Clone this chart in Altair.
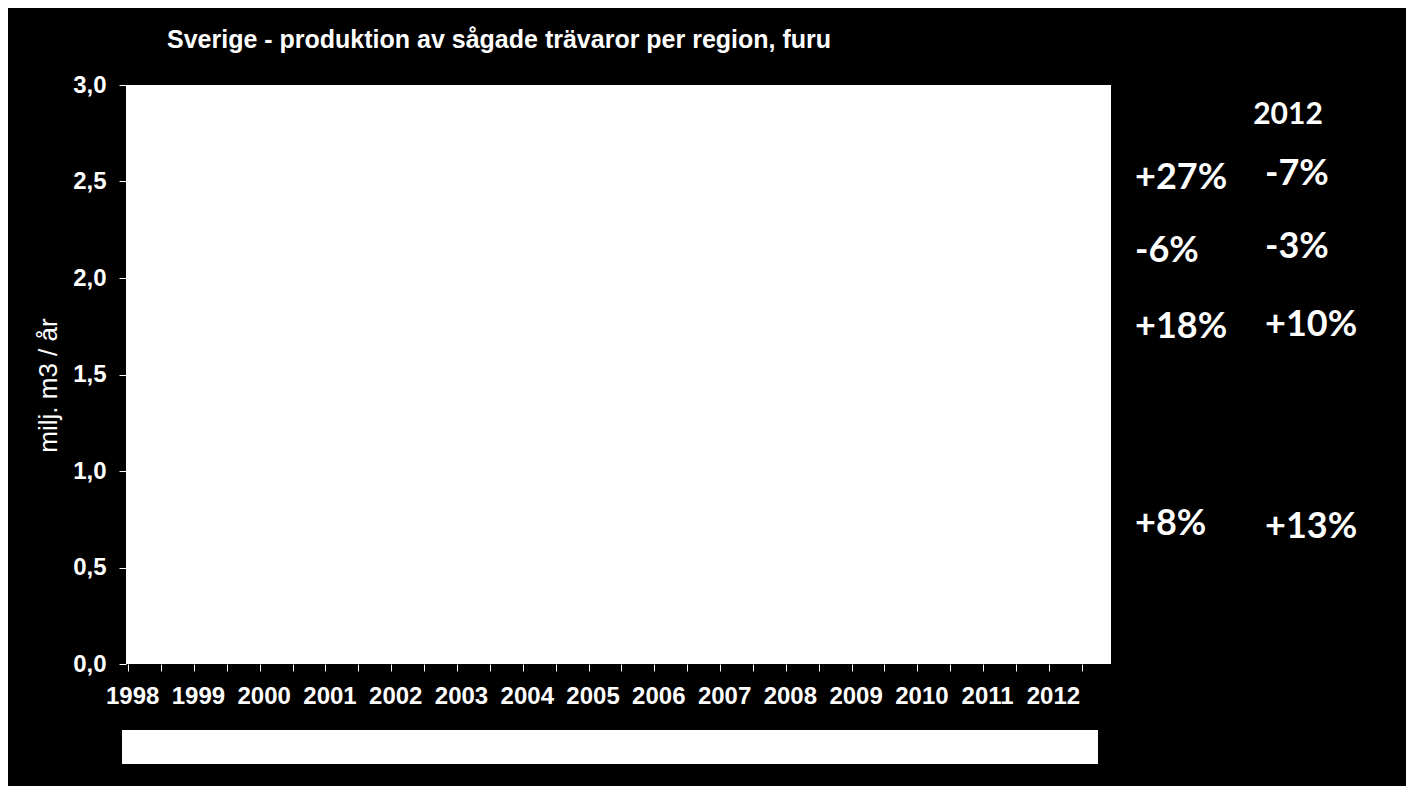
import altair as alt
import pandas as pd

# ---- data ----
years = list(range(1998, 2013))
y_ticks = [0.0, 0.5, 1.0, 1.5, 2.0, 2.5, 3.0]
col1_labels = ["+27%", "-6%", "+18%", "+8%"]
col1_values = [2.52, 2.14, 1.746, 0.725]
col2_labels = ["-7%", "-3%", "+10%", "+13%"]
col2_values = [2.54, 2.16, 1.756, 0.71]
header_label = ["2012"]
header_value = [2.845]
title_text = ["Sverige - produktion av sågade trävaror per region, furu"]
y_title = "milj. m3 / år"

half_year_ticks = [y + h for y in years for h in (0.0, 0.5)]

base_df = pd.DataFrame({"year": years, "v": [0.0] * len(years)})
col1_df = pd.DataFrame({"label": col1_labels, "v": col1_values})
col2_df = pd.DataFrame({"label": col2_labels, "v": col2_values})
head_df = pd.DataFrame({"label": header_label, "v": header_value})
title_df = pd.DataFrame({"label": title_text})

FONT = "Liberation Sans"
ANN_FONT = "Lato"

x_scale = alt.Scale(domain=[1997.967, 2012.944], nice=False, zero=False)
y_scale = alt.Scale(domain=[0, 3], nice=False)

x_axis = alt.Axis(
    values=half_year_ticks,
    labelExpr="datum.value % 1 === 0 ? format(datum.value, 'd') : ''",
    labelOverlap=False,
    labelOffset=4,
    labelFont=FONT, labelFontSize=24, labelFontWeight="bold", labelColor="white",
    labelPadding=13,
    tickColor="white", tickSize=7, tickWidth=1,
    domain=False, grid=False, title=None,
)
y_axis = alt.Axis(
    values=y_ticks,
    format=".1f",
    labelExpr="replace(datum.label, '.', ',')",
    labelFont=FONT, labelFontSize=24, labelFontWeight="bold", labelColor="white",
    labelPadding=13,
    tickColor="white", tickSize=7, tickWidth=1,
    domain=False, grid=False,
    title=y_title,
    titleFont=FONT, titleFontSize=26, titleFontWeight="normal", titleColor="white",
    titleX=-78, titleY=300, titleAlign="center", titleBaseline="middle", titleAngle=270,
)

base = alt.Chart(base_df).mark_point(opacity=0).encode(
    x=alt.X("year:Q", scale=x_scale, axis=x_axis),
    y=alt.Y("v:Q", scale=y_scale, axis=y_axis),
)

legend_box = alt.Chart(pd.DataFrame({"k": [0]})).mark_rect(color="white").encode(
    x=alt.value(-4), x2=alt.value(972), y=alt.value(645), y2=alt.value(679)
)

title_mark = alt.Chart(title_df).mark_text(
    font=FONT, fontSize=25, fontWeight="bold", color="white",
    align="left", baseline="alphabetic"
).encode(x=alt.value(41), y=alt.value(-37), text="label:N")

ann1 = alt.Chart(col1_df).mark_text(
    font=ANN_FONT, fontSize=36, fontWeight="bold", color="white",
    align="left", baseline="middle"
).encode(x=alt.value(1009), y=alt.Y("v:Q", scale=y_scale), text="label:N")

ann2 = alt.Chart(col2_df).mark_text(
    font=ANN_FONT, fontSize=36, fontWeight="bold", color="white",
    align="left", baseline="middle"
).encode(x=alt.value(1139), y=alt.Y("v:Q", scale=y_scale), text="label:N")

head = alt.Chart(head_df).mark_text(
    font=ANN_FONT, fontSize=30, fontWeight="bold", color="white",
    align="center", baseline="middle"
).encode(x=alt.value(1162), y=alt.Y("v:Q", scale=y_scale), text="label:N")

chart = alt.layer(base, legend_box, title_mark, ann1, ann2, head).properties(
    width=985,
    height=579,
    autosize=alt.AutoSizeParams(type="none"),
    padding={"left": 118, "top": 77, "right": 295, "bottom": 122},
    background="black",
).configure_view(fill="white", strokeWidth=0)

chart.save("out.html", embed_options={"renderer": "svg", "actions": False})
